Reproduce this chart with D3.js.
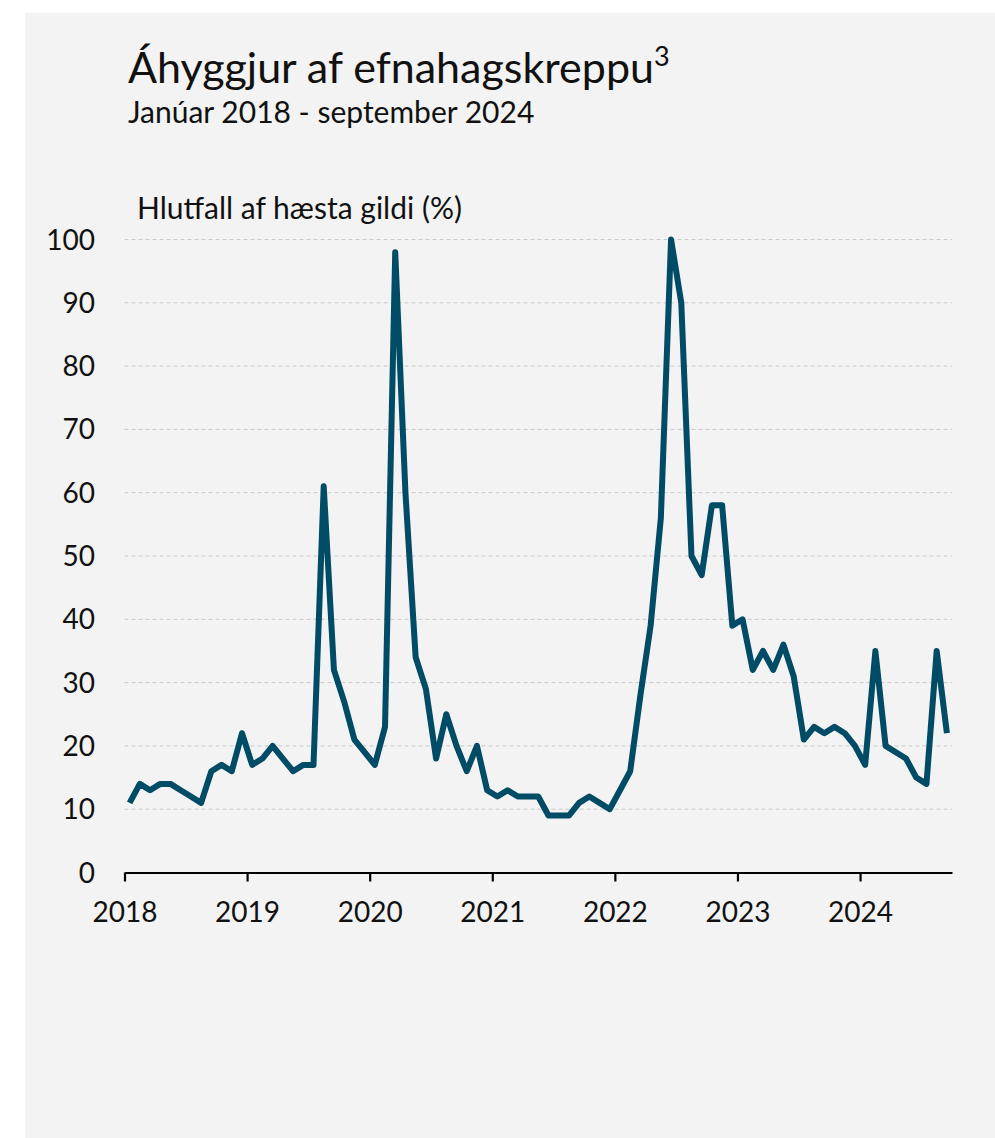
<!DOCTYPE html>
<html>
<head>
<meta charset="utf-8">
<script src="https://cdn.jsdelivr.net/npm/d3@7"></script>
<style>
  body { margin: 0; background: #fff; }
  svg { display: block; }
  text { font-family: Lato, "Open Sans", sans-serif; fill: #111; }
</style>
</head>
<body>
<div id="chart"></div>
<script>
var titleText = "Áhyggjur af efnahagskreppu";
var titleSup = "3";
var subtitleText = "Janúar 2018 - september 2024";
var unitText = "Hlutfall af hæsta gildi (%)";

var yearLabels = ["2018", "2019", "2020", "2021", "2022", "2023", "2024"];
var yTicks = [0, 10, 20, 30, 40, 50, 60, 70, 80, 90, 100];

// monthly values, jan 2018 - sep 2024
var values = [
    11, 14, 13, 14, 14, 13, 12, 11, 16, 17, 16, 22,   // 2018
    17, 18, 20, 18, 16, 17, 17, 61, 32, 27, 21, 19,   // 2019
    17, 23, 98, 60, 34, 29, 18, 25, 20, 16, 20, 13,   // 2020
    12, 13, 12, 12, 12, 9, 9, 9, 11, 12, 11, 10,      // 2021
    13, 16, 28, 39, 56, 100, 90, 50, 47, 58, 58, 39,  // 2022
    40, 32, 35, 32, 36, 31, 21, 23, 22, 23, 22, 20,   // 2023
    17, 35, 20, 19, 18, 15, 14, 35, 22                // 2024
];

var W = 995, H = 1138;
var svg = d3.select("#chart").append("svg")
    .attr("width", W)
    .attr("height", H);

svg.append("rect")
    .attr("x", 25).attr("y", 13)
    .attr("width", W - 25).attr("height", H - 13)
    .attr("fill", "#f3f3f3");

var plotLeft = 124.5, plotRight = 952, plotTop = 239.5, plotBottom = 872.5;

var x = d3.scaleLinear()
    .domain([0, values.length])
    .range([plotLeft, plotRight]);

var y = d3.scaleLinear()
    .domain([0, 100])
    .range([plotBottom, plotTop]);

// titles
var t = svg.append("text")
    .attr("x", 128).attr("y", 83)
    .style("font-size", "43px");
t.append("tspan").text(titleText);
t.append("tspan").attr("dy", -17).style("font-size", "27px").text(titleSup);

svg.append("text")
    .attr("x", 128).attr("y", 123)
    .style("font-size", "30px")
    .text(subtitleText);

svg.append("text")
    .attr("x", 137).attr("y", 219)
    .style("font-size", "30px")
    .text(unitText);

// grid
svg.append("g")
    .selectAll("line")
    .data(yTicks.filter(function(d) { return d > 0; }))
    .enter().append("line")
    .attr("x1", plotLeft).attr("x2", plotRight)
    .attr("y1", function(d) { return y(d); })
    .attr("y2", function(d) { return y(d); })
    .attr("stroke", "#c9c9c9")
    .attr("stroke-width", 1)
    .attr("stroke-dasharray", "4,3");

// y labels
svg.append("g")
    .selectAll("text")
    .data(yTicks)
    .enter().append("text")
    .attr("x", 95)
    .attr("y", function(d) { return y(d); })
    .attr("dy", "0.36em")
    .attr("text-anchor", "end")
    .style("font-size", "28px")
    .text(function(d) { return d; });

// x axis
var xAxis = d3.axisBottom(x)
    .tickValues(yearLabels.map(function(d, i) { return i * 12; }))
    .tickFormat(function(d, i) { return yearLabels[i]; })
    .tickSize(9)
    .tickSizeOuter(0)
    .tickPadding(21);

var gx = svg.append("g")
    .attr("transform", "translate(0," + plotBottom + ")")
    .call(xAxis);
gx.select(".domain").attr("stroke", "#000").attr("stroke-width", 2.2);
gx.selectAll(".tick line").attr("stroke", "#000").attr("stroke-width", 2.2);
gx.selectAll(".tick text")
    .style("font-size", "28px")
    .style("font-family", "Lato, 'Open Sans', sans-serif")
    .attr("fill", "#111");

// line
var line = d3.line()
    .x(function(d, i) { return x(i + 0.5); })
    .y(function(d) { return y(d); });

svg.append("path")
    .datum(values)
    .attr("d", line)
    .attr("fill", "none")
    .attr("stroke", "#004b66")
    .attr("stroke-width", 6)
    .attr("stroke-linejoin", "round")
    .attr("stroke-linecap", "butt");
</script>
</body>
</html>
